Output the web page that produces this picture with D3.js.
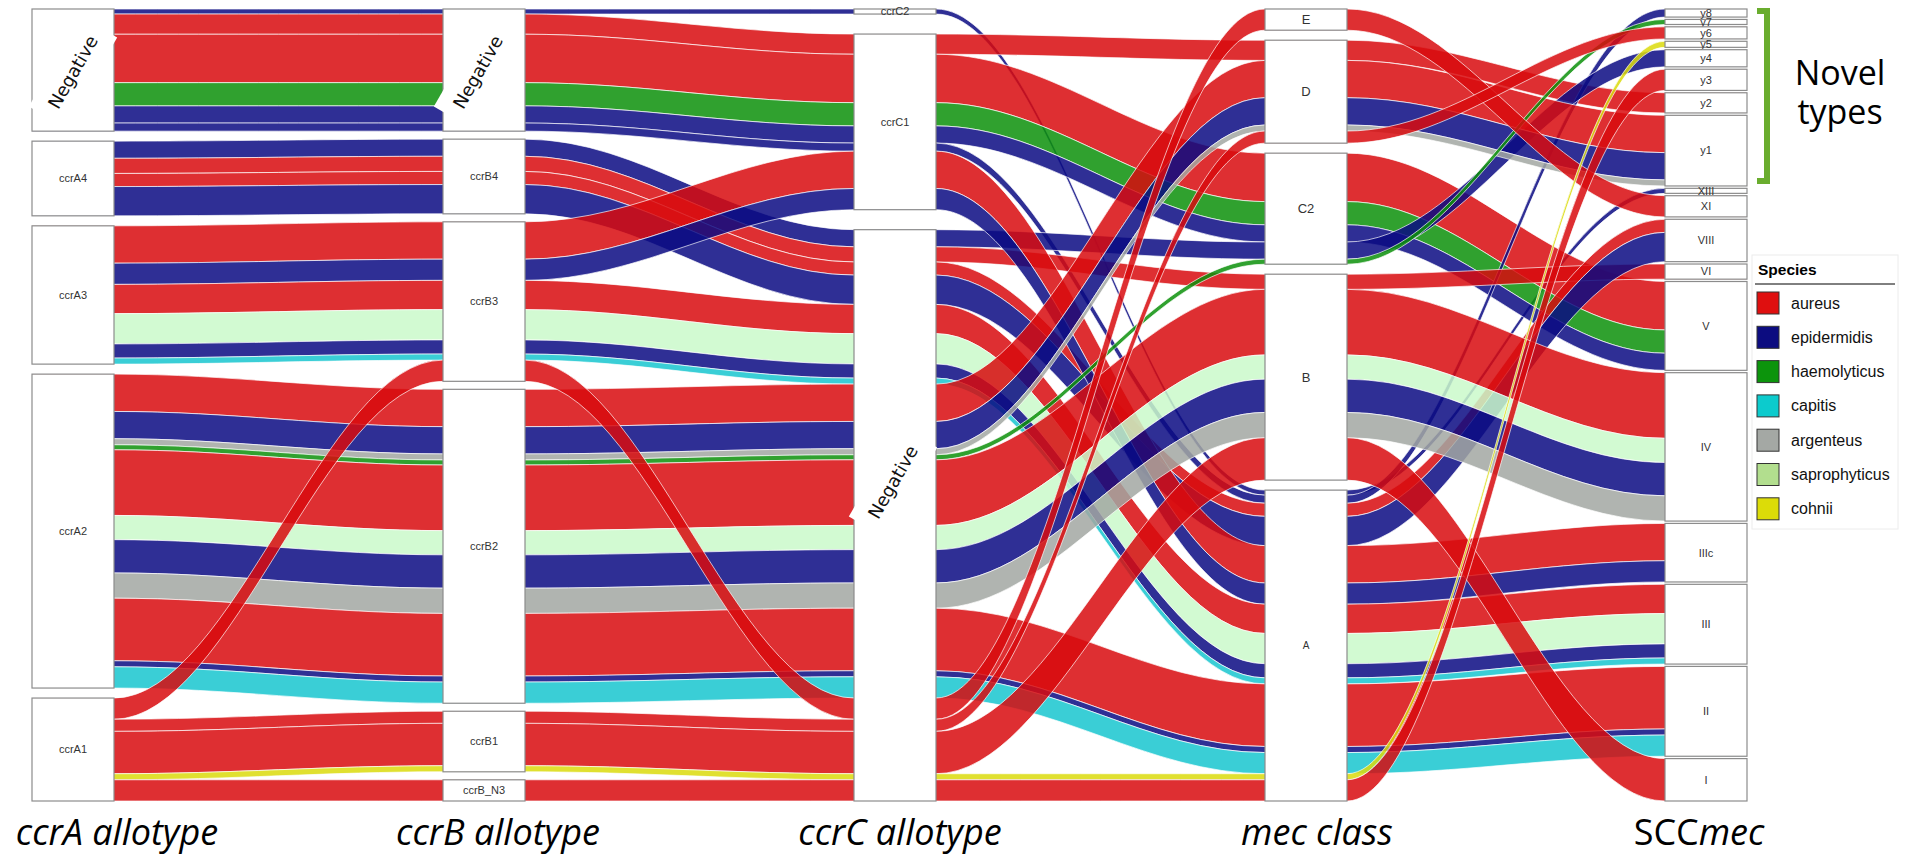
<!DOCTYPE html>
<html>
<head>
<meta charset="utf-8">
<script src="https://cdn.jsdelivr.net/npm/d3@7"></script>
<style>
  body { margin: 0; background: #fff; }
  svg { display: block; }
</style>
</head>
<body>
<div id="content"></div>
<script>
// axes and their strata, listed top to bottom
var axes = ["ccrA allotype", "ccrB allotype", "ccrC allotype", "mec class", "SCCmec"];
var ccrAStrata = ["Negative", "ccrA4", "ccrA3", "ccrA2", "ccrA1"];
var ccrBStrata = ["Negative", "ccrB4", "ccrB3", "ccrB2", "ccrB1", "ccrB_N3"];
var ccrCStrata = ["ccrC2", "ccrC1", "Negative"];
var mecStrata = ["E", "D", "C2", "B", "A"];
var sccmecStrata = ["y8", "y7", "y6", "y5", "y4", "y3", "y2", "y1", "XIII", "XI",
                    "VIII", "VI", "V", "IV", "IIIc", "III", "II", "I"];
var species = ["aureus", "epidermidis", "haemolyticus", "capitis", "argenteus", "saprophyticus", "cohnii"];

// one entry per alluvium (combination of the five axes + species)
var ccrA = ["Negative", "Negative", "Negative", "Negative", "Negative", "Negative",
            "ccrA4", "ccrA4", "ccrA4", "ccrA4",
            "ccrA3", "ccrA3", "ccrA3", "ccrA3", "ccrA3", "ccrA3",
            "ccrA2", "ccrA2", "ccrA2", "ccrA2", "ccrA2", "ccrA2", "ccrA2", "ccrA2", "ccrA2", "ccrA2", "ccrA2",
            "ccrA1", "ccrA1", "ccrA1", "ccrA1", "ccrA1"];
var ccrB = ["Negative", "Negative", "Negative", "Negative", "Negative", "Negative",
            "ccrB4", "ccrB4", "ccrB4", "ccrB4",
            "ccrB3", "ccrB3", "ccrB3", "ccrB3", "ccrB3", "ccrB3",
            "ccrB2", "ccrB2", "ccrB2", "ccrB2", "ccrB2", "ccrB2", "ccrB2", "ccrB2", "ccrB2", "ccrB2", "ccrB2",
            "ccrB3", "ccrB1", "ccrB1", "ccrB1", "ccrB_N3"];
var ccrC = ["ccrC2", "ccrC1", "ccrC1", "ccrC1", "ccrC1", "ccrC1",
            "Negative", "Negative", "Negative", "Negative",
            "ccrC1", "ccrC1", "Negative", "Negative", "Negative", "Negative",
            "Negative", "Negative", "Negative", "Negative", "Negative", "Negative", "Negative", "Negative", "Negative", "Negative", "Negative",
            "Negative", "Negative", "Negative", "Negative", "Negative"];
var mec = ["A", "D", "C2", "C2", "C2", "A",
           "C2", "B", "A", "A",
           "A", "A", "A", "A", "A", "A",
           "D", "D", "D", "C2", "B", "B", "B", "B", "A", "A", "A",
           "E", "D", "B", "A", "A"];
var sccmec = ["XIII", "y2", "V", "V", "V", "y8",
              "y4", "VI", "VIII", "VIII",
              "IIIc", "IIIc", "III", "III", "III", "III",
              "y1", "y1", "y1", "y7", "IV", "IV", "IV", "IV", "II", "II", "II",
              "XI", "y6", "I", "y5", "y3"];
var host = ["epidermidis", "aureus", "aureus", "haemolyticus", "epidermidis", "epidermidis",
            "epidermidis", "aureus", "aureus", "epidermidis",
            "aureus", "epidermidis", "aureus", "saprophyticus", "epidermidis", "capitis",
            "aureus", "epidermidis", "argenteus", "haemolyticus", "aureus", "saprophyticus", "epidermidis", "argenteus", "aureus", "epidermidis", "capitis",
            "aureus", "aureus", "aureus", "cohnii", "aureus"];
var isolates = [5, 20, 48, 23, 17, 8,
                17, 15, 13, 29,
                37, 21, 29, 30, 14, 6,
                37, 27, 6, 5, 65, 24, 33, 25, 62, 6, 21,
                21, 12, 42, 6, 21];

var flowColors = ["#d80a0e", "#0a0a82", "#0c900a", "#18c6cf", "#a2a7a2", "#caf9ca", "#dbdb0c"];
var keyColors = ["#df0f0f", "#0c0c80", "#0c940c", "#0ccbcd", "#a4a8a4", "#b2de8e", "#dcdc08"];

var width = 1921, height = 855;
var plotTop = 9, plotBottom = 801, gapTotal = 40, nodeW = 82, curl = 0.36;

var strata = [ccrAStrata, ccrBStrata, ccrCStrata, mecStrata, sccmecStrata];
var columns = [ccrA, ccrB, ccrC, mec, sccmec];

var x = d3.scaleOrdinal().domain(axes).range([73, 484, 895, 1306, 1706]);
var h = d3.scaleLinear().domain([0, d3.sum(isolates)]).range([0, plotBottom - plotTop - gapTotal]);
var color = d3.scaleOrdinal().domain(species).range(flowColors);

function rank(a, i) {
  return strata[a].indexOf(columns[a][i]);
}

var ids = d3.range(isolates.length);
var nodes = [];
// lodeY[a][i] = [top, bottom] of alluvium i at axis a
var lodeY = axes.map(function() { return []; });

axes.forEach(function(ax, a) {
  var gap = gapTotal / (strata[a].length - 1);
  var y = plotTop;
  var nodeTop = {};
  strata[a].forEach(function(s) {
    var v = d3.sum(ids.filter(function(i) { return columns[a][i] === s; }), function(i) { return isolates[i]; });
    nodes.push({axis: a, name: s, y0: y, y1: y + h(v)});
    nodeTop[s] = y;
    y += h(v) + gap;
  });

  // order lodes within each stratum: this axis, then the others left to right
  var guide = [a].concat(d3.range(axes.length).filter(function(b) { return b !== a; }));
  var order = ids.slice().sort(function(i, j) {
    for (var k = 0; k < guide.length; k++) {
      var d = rank(guide[k], i) - rank(guide[k], j);
      if (d) return d;
    }
    return i - j;
  });
  var cum = {};
  order.forEach(function(i) {
    var s = columns[a][i];
    var c = cum[s] || 0;
    lodeY[a][i] = [nodeTop[s] + h(c), nodeTop[s] + h(c + isolates[i])];
    cum[s] = c + isolates[i];
  });
});

function curve(x0, y0, x1, y1) {
  var xc = (x1 - x0) * curl;
  return "C" + (x0 + xc) + "," + y0 + " " + (x1 - xc) + "," + y1 + " " + x1 + "," + y1;
}

function alluviumPath(i) {
  var n = axes.length;
  var p = "M" + (x(axes[0]) - nodeW / 2) + "," + lodeY[0][i][0] + "H" + (x(axes[0]) + nodeW / 2);
  for (var a = 1; a < n; a++) {
    p += curve(x(axes[a - 1]) + nodeW / 2, lodeY[a - 1][i][0], x(axes[a]) - nodeW / 2, lodeY[a][i][0]);
    p += "H" + (x(axes[a]) + nodeW / 2);
  }
  p += "L" + (x(axes[n - 1]) + nodeW / 2) + "," + lodeY[n - 1][i][1] + "H" + (x(axes[n - 1]) - nodeW / 2);
  for (var b = n - 1; b > 0; b--) {
    p += curve(x(axes[b]) - nodeW / 2, lodeY[b][i][1], x(axes[b - 1]) + nodeW / 2, lodeY[b - 1][i][1]);
    p += "H" + (x(axes[b - 1]) - nodeW / 2);
  }
  return p + "Z";
}

var svg = d3.select("div#content").append("svg")
  .attr("width", width)
  .attr("height", height);

svg.append("g")
  .selectAll("path")
  .data(ids)
  .enter().append("path")
  .attr("d", alluviumPath)
  .attr("fill", function(i) { return color(host[i]); })
  .attr("fill-opacity", 0.85)
  .attr("stroke", "#ffffff")
  .attr("stroke-opacity", 0.75)
  .attr("stroke-width", 0.9);

// strata boxes
var node = svg.append("g").selectAll("g")
  .data(nodes)
  .enter().append("g");

node.append("rect")
  .attr("x", function(d) { return x(axes[d.axis]) - nodeW / 2; })
  .attr("y", function(d) { return d.y0; })
  .attr("width", nodeW)
  .attr("height", function(d) { return d.y1 - d.y0; })
  .attr("fill", "#ffffff")
  .attr("stroke", "#8c8c8c")
  .attr("stroke-width", 1.2);

node.filter(function(d) { return d.name !== "Negative"; })
  .append("text")
  .attr("x", function(d) { return x(axes[d.axis]); })
  .attr("y", function(d) { return (d.y0 + d.y1) / 2; })
  .attr("dy", "0.35em")
  .attr("text-anchor", "middle")
  .attr("font-family", "Liberation Sans, Arial, sans-serif")
  .attr("font-size", function(d) {
    if (d.axis === 3) return d.name === "A" ? "10px" : "13px";
    return "11px";
  })
  .attr("fill", "#333")
  .text(function(d) { return d.name; });

// big rotated "Negative" labels sit on a white patch
var neg = node.filter(function(d) { return d.name === "Negative"; })
  .append("g")
  .attr("transform", function(d) {
    var cx = x(axes[d.axis]) - (d.axis === 1 ? 6 : d.axis === 2 ? 2 : 0);
    var cy = d.axis === 2 ? 482 : (d.y0 + d.y1) / 2 + 2;
    return "translate(" + cx + "," + cy + ") rotate(-60)";
  });

neg.append("rect")
  .attr("x", -52)
  .attr("y", -21)
  .attr("width", 104)
  .attr("height", 42)
  .attr("fill", "#ffffff");

neg.append("text")
  .attr("text-anchor", "middle")
  .attr("dy", "0.35em")
  .attr("font-family", "DejaVu Sans, sans-serif")
  .attr("font-size", "18px")
  .attr("fill", "#111")
  .text("Negative");

// axis titles
var titleNudge = [44, 14, 5, 11, -7];
svg.append("g").selectAll("text")
  .data(axes)
  .enter().append("text")
  .attr("x", function(d, k) { return x(d) + titleNudge[k]; })
  .attr("y", 845)
  .attr("text-anchor", "middle")
  .attr("font-family", "Open Sans, sans-serif")
  .attr("font-size", "36px")
  .attr("fill", "#000")
  .each(function(d) {
    var t = d3.select(this);
    if (d === "SCCmec") {
      t.append("tspan").text("SCC");
      t.append("tspan").attr("font-style", "italic").text("mec");
    } else {
      t.attr("font-style", "italic").text(d);
    }
  });

// bracket for the novel types
svg.append("path")
  .attr("d", "M1757,11H1767V181H1757")
  .attr("fill", "none")
  .attr("stroke", "#6aad2e")
  .attr("stroke-width", 6);

svg.append("text")
  .attr("x", 1840)
  .attr("y", 85)
  .attr("text-anchor", "middle")
  .attr("font-family", "Open Sans, sans-serif")
  .attr("font-size", "34px")
  .text("Novel");

svg.append("text")
  .attr("x", 1840)
  .attr("y", 124)
  .attr("text-anchor", "middle")
  .attr("font-family", "Open Sans, sans-serif")
  .attr("font-size", "34px")
  .text("types");

// legend
var legend = svg.append("g").attr("transform", "translate(1752,255)");

legend.append("rect")
  .attr("width", 146)
  .attr("height", 274)
  .attr("fill", "#ffffff")
  .attr("stroke", "#ececec");

legend.append("text")
  .attr("x", 6)
  .attr("y", 20)
  .attr("font-family", "Liberation Sans, Arial, sans-serif")
  .attr("font-weight", "bold")
  .attr("font-size", "15.5px")
  .text("Species");

legend.append("line")
  .attr("x1", 3)
  .attr("x2", 143)
  .attr("y1", 29)
  .attr("y2", 29)
  .attr("stroke", "#000");

var item = legend.selectAll(".item")
  .data(species)
  .enter().append("g")
  .attr("class", "item")
  .attr("transform", function(d, k) { return "translate(5," + (37 + k * 34.3) + ")"; });

item.append("rect")
  .attr("width", 22)
  .attr("height", 22)
  .attr("fill", function(d, k) { return keyColors[k]; })
  .attr("stroke", "#333")
  .attr("stroke-width", 1);

item.append("text")
  .attr("x", 34)
  .attr("y", 11)
  .attr("dy", "0.35em")
  .attr("font-family", "Liberation Sans, Arial, sans-serif")
  .attr("font-size", "16px")
  .attr("fill", "#111")
  .text(function(d) { return d; });
</script>
</body>
</html>
